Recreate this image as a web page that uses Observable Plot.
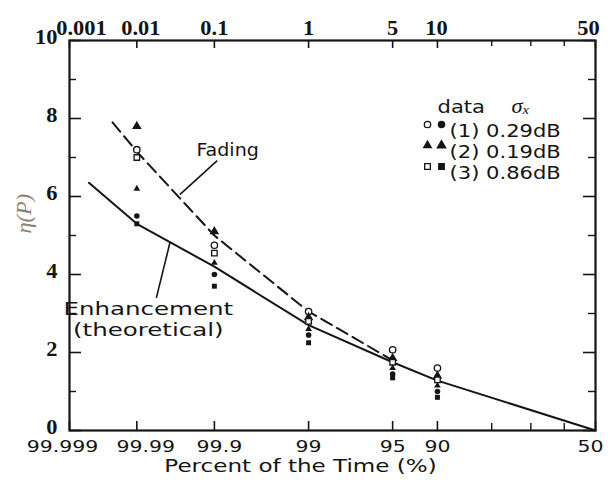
<!DOCTYPE html>
<html><head><meta charset="utf-8">
<script src="https://cdn.jsdelivr.net/npm/d3@7"></script>
<script src="https://cdn.jsdelivr.net/npm/@observablehq/plot@0.6"></script>
<style>html,body{margin:0;padding:0;background:#fff;}</style>
</head><body><div id="chart"></div>
<script>
// ---- axis ticks (percent of time, on a normal-probability scale) ----
const tickPercents = [0.001, 0.01, 0.1, 1, 5, 10, 50];
const topTickLabels = ["0.001", "0.01", "0.1", "1", "5", "10", "50"];
const bottomTickLabels = ["99.999", "99.99", "99.9", "99", "95", "90", "50"];
const minorTickPercents = [20, 30, 40];
const yMajorTicks = [0, 2, 4, 6, 8, 10];
const yMinorTicks = [1, 3, 5, 7, 9];

// ---- measured data (open = fading, filled = enhancement) ----
const dataPercents = [0.01, 0.1, 1, 5, 10];
const fading1 = [7.2, 4.75, 3.05, 2.07, 1.6];
const fading2 = [7.8, 5.1, 2.9, 1.85, 1.4];
const fading3 = [7.0, 4.55, 2.8, 1.75, 1.3];
const enhance1 = [5.5, 4.0, 2.45, 1.45, 1.0];
const enhance2 = [6.2, 4.3, 2.6, 1.6, 1.15];
const enhance3 = [5.3, 3.7, 2.25, 1.35, 0.85];

// ---- curves ----
const enhancementPercents = [0.002, 0.01, 0.1, 1, 5, 10, 50];
const enhancementEta = [6.35, 5.3, 4.2, 2.7, 1.75, 1.28, 0];
const fadingPercents = [0.0045, 0.01, 0.1, 1, 5];
const fadingEta = [7.9, 7.15, 5.0, 3.05, 1.8];

// ---- legend ----
const legendLabels = ["(1) 0.29dB", "(2) 0.19dB", "(3) 0.86dB"];
const legendSymbols = ["circle", "triangle", "square"];

// ---- annotations (in data units: percent, eta) ----
const fadingLabel = {percent: 0.0606, eta: 7.18, text: "Fading"};
const fadingLeader = {p1: 0.108, e1: 6.92, p2: 0.0375, e2: 6.05};
const enhLabel = {percent: 0.0144, eta1: 3.1, eta2: 2.56, line1: "Enhancement", line2: "(theoretical)"};
const enhLeader = {p1: 0.0185, e1: 3.4, p2: 0.028, e2: 4.82};

// inverse standard normal CDF (Acklam)
function qnorm(p) {
  const a=[-3.969683028665376e+01,2.209460984245205e+02,-2.759285104469687e+02,1.383577518672690e+02,-3.066479806614716e+01,2.506628277459239e+00];
  const b=[-5.447609879822406e+01,1.615858368580409e+02,-1.556989798598866e+02,6.680131188771972e+01,-1.328068155288572e+01];
  const c=[-7.784894002430293e-03,-3.223964580411365e-01,-2.400758277161838e+00,-2.549732539343734e+00,4.374664141464968e+00,2.938163982698783e+00];
  const d=[7.784695709041462e-03,3.224671290700398e-01,2.445134137142996e+00,3.754408661907416e+00];
  const pl = 0.02425, ph = 1 - pl;
  let q, r;
  if (p < pl) { q = Math.sqrt(-2*Math.log(p)); return (((((c[0]*q+c[1])*q+c[2])*q+c[3])*q+c[4])*q+c[5])/((((d[0]*q+d[1])*q+d[2])*q+d[3])*q+1); }
  if (p <= ph) { q = p - 0.5; r = q*q; return (((((a[0]*r+a[1])*r+a[2])*r+a[3])*r+a[4])*r+a[5])*q/(((((b[0]*r+b[1])*r+b[2])*r+b[3])*r+b[4])*r+1); }
  q = Math.sqrt(-2*Math.log(1-p)); return -(((((c[0]*q+c[1])*q+c[2])*q+c[3])*q+c[4])*q+c[5])/((((d[0]*q+d[1])*q+d[2])*q+d[3])*q+1);
}
const zOf = pct => -qnorm(pct / 100);

const W = 608, H = 484, ML = 69, MR = 13, MT = 40, MB = 54;
const PW = W - ML - MR, PH = H - MT - MB;
const INK = "#151515";
const SANS = "DejaVu Sans";
const SERIF = "Liberation Serif";
// small label nudges (style only)
const topLabelDx = [12, 4, 0, 0, 0, -1, -7];
const bottomLabelDx = [-7, 9, 5, 0, 0, 0, -5];

const tickRows = tickPercents.map((p, i) => ({z: zOf(p), top: topTickLabels[i], bottom: bottomTickLabels[i]}));
const minorRows = minorTickPercents.map(p => ({z: zOf(p)}));
const pts = vals => dataPercents.map((p, i) => ({z: zOf(p), eta: vals[i]}));
const enhRows = enhancementPercents.map((p, i) => ({z: zOf(p), eta: enhancementEta[i]}));
const fadRows = fadingPercents.map((p, i) => ({z: zOf(p), eta: fadingEta[i]}));

const tickLabelMarks = [];
tickRows.forEach((row, i) => {
  tickLabelMarks.push(
    Plot.text([row], {x: "z", text: "top", frameAnchor: "top", dy: -20, dx: topLabelDx[i],
      fontFamily: SERIF, fontWeight: "bold", fontSize: 20, fill: INK}),
    Plot.text([row], {x: "z", text: "bottom", frameAnchor: "bottom", dy: 21, dx: bottomLabelDx[i],
      fontFamily: SANS, fontSize: 16.5, fill: INK})
  );
});

const legendMarks = [];
legendLabels.forEach((lab, i) => {
  const dy = 84 + i * 21;
  const sym = legendSymbols[i];
  legendMarks.push(
    Plot.dot([0], {frameAnchor: "top-right", dx: -168, dy, symbol: sym, r: sym === "triangle" ? 2.8 : 3.2,
      fill: sym === "triangle" ? INK : "white", stroke: INK, strokeWidth: 1.3}),
    Plot.dot([0], {frameAnchor: "top-right", dx: -154, dy, symbol: sym, r: 3, fill: INK, stroke: INK}),
    Plot.text([lab], {frameAnchor: "top-right", dx: -146, dy, text: d => d, textAnchor: "start",
      fontFamily: SANS, fontSize: 17, fill: INK})
  );
});

const chart = Plot.plot({
  width: W, height: H,
  marginLeft: ML, marginRight: MR, marginTop: MT, marginBottom: MB,
  style: {background: "white"},
  x: {domain: [zOf(0.001), 0], axis: null},
  y: {domain: [0, 10], axis: null},
  marks: [
    // ticks
    Plot.tickX(tickRows, {x: "z", insetBottom: PH - 8, stroke: INK, strokeWidth: 1.6}),
    Plot.tickX(tickRows, {x: "z", insetTop: PH - 9, stroke: INK, strokeWidth: 1.6}),
    Plot.tickX(minorRows, {x: "z", insetBottom: PH - 6, stroke: INK, strokeWidth: 1.4}),
    Plot.tickX(minorRows, {x: "z", insetTop: PH - 7, stroke: INK, strokeWidth: 1.4}),
    Plot.tickY(yMajorTicks, {y: d => d, insetRight: PW - 12, stroke: INK, strokeWidth: 1.6}),
    Plot.tickY(yMinorTicks, {y: d => d, insetRight: PW - 7, stroke: INK, strokeWidth: 1.4}),
    Plot.tickY(yMajorTicks, {y: d => d, insetLeft: PW - 12, stroke: INK, strokeWidth: 1.6}),
    Plot.tickY(yMinorTicks, {y: d => d, insetLeft: PW - 7, stroke: INK, strokeWidth: 1.4}),
    Plot.frame({stroke: INK, strokeWidth: 2.2}),
    // tick labels
    ...tickLabelMarks,
    Plot.text(yMajorTicks, {y: d => d, text: d => String(d), frameAnchor: "left", dx: -12, dy: -3, textAnchor: "end",
      fontFamily: SERIF, fontWeight: "bold", fontSize: 20, fill: INK}),
    // axis titles
    Plot.text(["Percent of the Time (%)"], {frameAnchor: "bottom", dx: -32, dy: 41, text: d => d, fontFamily: SANS, fontSize: 18, fill: INK}),
    Plot.text(["η(P)"], {frameAnchor: "left", dx: -45, dy: -2, rotate: -90, text: d => d, fontFamily: SERIF, fontStyle: "italic", fontSize: 20, fill: "#8a8272"}),
    // curves
    Plot.line(enhRows, {x: "z", y: "eta", stroke: INK, strokeWidth: 2}),
    Plot.line(fadRows, {x: "z", y: "eta", stroke: INK, strokeWidth: 2, strokeDasharray: "12,6"}),
    // data points
    Plot.dot(pts(fading1), {x: "z", y: "eta", symbol: "circle", r: 3.2, fill: "white", stroke: INK, strokeWidth: 1.3}),
    Plot.dot(pts(fading2), {x: "z", y: "eta", symbol: "triangle", r: 2.6, fill: INK, stroke: INK}),
    Plot.dot(pts(fading3), {x: "z", y: "eta", symbol: "square", r: 3.1, fill: "white", stroke: INK, strokeWidth: 1.3}),
    Plot.dot(pts(enhance1), {x: "z", y: "eta", symbol: "circle", r: 2.8, fill: INK}),
    Plot.dot(pts(enhance2), {x: "z", y: "eta", symbol: "triangle", r: 2.5, fill: INK}),
    Plot.dot(pts(enhance3), {x: "z", y: "eta", symbol: "square", r: 2.8, fill: INK}),
    // annotations
    Plot.link([fadingLeader], {x1: d => zOf(d.p1), y1: "e1", x2: d => zOf(d.p2), y2: "e2", stroke: INK, strokeWidth: 1.6}),
    Plot.link([enhLeader], {x1: d => zOf(d.p1), y1: "e1", x2: d => zOf(d.p2), y2: "e2", stroke: INK, strokeWidth: 1.6}),
    Plot.text([fadingLabel], {x: d => zOf(d.percent), y: "eta", text: "text", textAnchor: "start", fontFamily: SANS, fontSize: 17, fill: INK}),
    Plot.text([enhLabel], {x: d => zOf(d.percent), y: "eta1", text: "line1", fontFamily: SANS, fontSize: 17.5, fill: INK}),
    Plot.text([enhLabel], {x: d => zOf(d.percent), y: "eta2", text: "line2", fontFamily: SANS, fontSize: 17.5, fill: INK}),
    // legend
    Plot.text(["data"], {frameAnchor: "top-right", dx: -158, dy: 60, text: d => d, textAnchor: "start", fontFamily: SANS, fontSize: 17, fill: INK}),
    Plot.text(["σ"], {frameAnchor: "top-right", dx: -84, dy: 58, text: d => d, textAnchor: "start", fontFamily: SERIF, fontStyle: "italic", fontSize: 20, fill: INK}),
    Plot.text(["x"], {frameAnchor: "top-right", dx: -73, dy: 64, text: d => d, textAnchor: "start", fontFamily: SERIF, fontStyle: "italic", fontSize: 13, fill: INK}),
    ...legendMarks
  ]
});
document.getElementById("chart").append(chart);

// the reference's lettering is horizontally widened; stretch the glyphs to match
const wideTexts = new Set(["Enhancement", "(theoretical)"]);
chart.querySelectorAll("text").forEach(t => {
  if (t.querySelector("tspan")) return;
  const ff = getComputedStyle(t).fontFamily || "";
  const content = t.textContent;
  let S = ff.includes("Serif") ? 1.12 : 1.24;
  if (wideTexts.has(content)) S = 1.4;
  if (content === "Fading") S = 1.12;
  if (content === "Percent of the Time (%)") S = 1.28;
  const w = t.getComputedTextLength();
  if (w > 0) {
    t.setAttribute("textLength", (w * S).toFixed(1));
    t.setAttribute("lengthAdjust", "spacingAndGlyphs");
  }
});
</script>
</body></html>
